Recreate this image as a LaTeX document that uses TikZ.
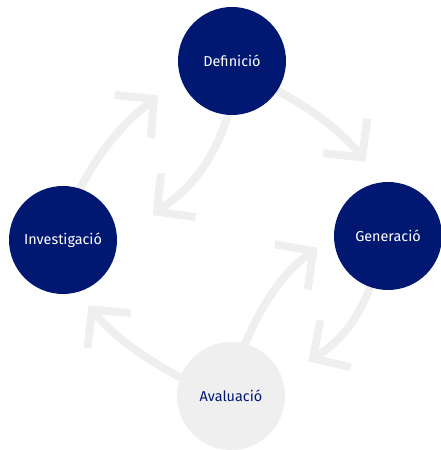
\documentclass[tikz,border=0pt]{standalone}
\usepackage{fontspec}
\setmainfont{Fira Sans}
\usetikzlibrary{arrows.meta,backgrounds}
\definecolor{navy}{HTML}{001872}
\definecolor{pale}{HTML}{EFEFEF}
\tikzset{
  stage/.style={circle,fill=navy,text=white,minimum size=108pt,inner sep=0pt,
    font=\fontsize{14.4}{16}\selectfont},
  cyc/.style={draw=pale,line width=8pt,shorten <=-10pt,
    -{Straight Barb[length=27pt,width=56pt]}}
}

\begin{document}
\begin{tikzpicture}[x=1pt,y=1pt]
  \useasboundingbox (0,0) rectangle (441,450);
  % The stages
  \node[stage] (def) at (232,389) {Definició};
  \node[stage] (gen) at (388,214) {Generació};
  \node[stage] (inv) at (63,210) {Investigació};
  \node[stage,fill=pale,text=navy] (ava) at (231,54) {Avaluació};
  % The arrows, behind the stages
  \begin{scope}[on background layer]
    % outer ring
    \draw[cyc,shorten >=29pt] (inv.72) to[out=63,in=220] (def.197);
    \draw[cyc,shorten >=26pt] (def.-33) to[out=-28,in=128] (gen.97);
    \draw[cyc,shorten >=17pt] (ava.160) to[out=152,in=309] (inv.286);
    % inner ring
    \draw[cyc,shorten >=45pt] (def.266) to[out=255,in=38] (inv.-3);
    \draw[cyc,shorten >=31pt] (gen.251) to[out=252,in=33] (ava.19);
    \draw[cyc,shorten >=20pt] (ava.75) to[out=68,in=216] (gen.180);
  \end{scope}
\end{tikzpicture}
\end{document}
